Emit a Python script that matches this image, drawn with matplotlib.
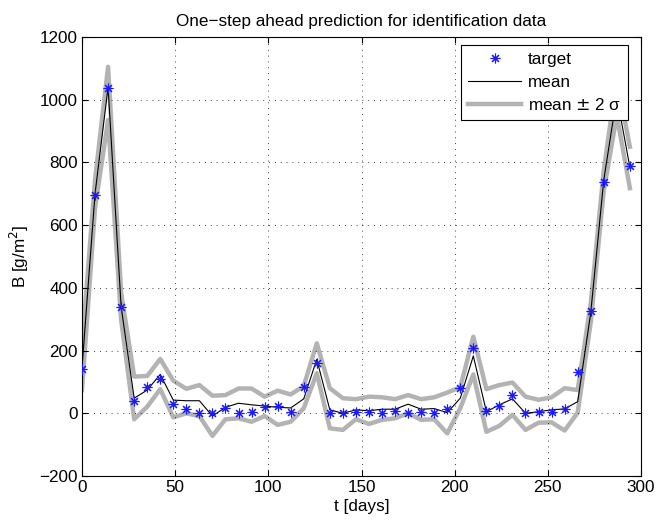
import numpy as np
import matplotlib.pyplot as plt

plt.rcParams['font.family'] = ['Liberation Sans', 'DejaVu Sans']

days = np.arange(0, 295, 7)

target = [140, 696, 1037, 340, 39, 85, 109, 29, 14, 0, 2, 18, 0, 4, 19, 23, 3, 85,
          161, 2, 0, 5, 3, 1, 7, 1, 3, 2, 13, 80, 209, 8, 23, 59, 1, 3, 5, 15, 132,
          326, 739, 1020, 790]

mean = [145, 700, 1040, 340, 48, 74, 124, 42, 40, 40, -9, 19, 32, 27, 23, 19, 17, 46,
        172, 11, 0, 11, 8, 13, 13, 29, 13, 15, 2, 48, 183, 5, 27, 46, 0, 5, 11, 14, 37,
        320, 744, 1010, 785]

upper = [212, 745, 1105, 384, 117, 119, 173, 104, 78, 90, 56, 58, 79, 79, 53, 72, 60, 87,
         223, 80, 48, 45, 53, 51, 45, 58, 45, 51, 66, 83, 244, 77, 90, 98, 53, 43, 51, 80, 74,
         350, 775, 1070, 850]

lower = [74, 655, 935, 298, -19, 21, 77, -13, 0, -9, -72, -19, -16, -27, -9, -37, -27, 16,
         128, -48, -53, -19, -34, -21, -16, 0, -21, -19, -64, 16, 124, -59, -40, -5, -53, -30,
         -29, -55, 2, 290, 710, 950, 718]

fs = 12.3

fig = plt.figure(figsize=(6.57, 5.31), dpi=100)
ax = fig.add_axes([0.1248, 0.1036, 0.8509, 0.8267])

ax.plot(days, target, linestyle='none', marker=(8, 2, 0), color='#1a1aff',
        markersize=7, markeredgewidth=0.8, label='target', zorder=3)
ax.plot(days, mean, '-', color='black', linewidth=0.8, label='mean', zorder=2)
ax.plot(days, upper, '-', color='#b3b3b3', linewidth=3.2, label='mean $\\pm$ 2 σ',
        zorder=1)
ax.plot(days, lower, '-', color='#b3b3b3', linewidth=3.2, zorder=1)

ax.set_xlim(0, 300)
ax.set_ylim(-200, 1200)
ax.set_xticks(np.arange(0, 301, 50))
ax.set_yticks(np.arange(-200, 1201, 200))
ax.set_yticklabels(['\u2212200'] + [str(v) for v in range(0, 1201, 200)])
ax.grid(True, linestyle=(0, (1, 6)), color='black', linewidth=0.6)
ax.tick_params(direction='in', top=True, right=True, labelsize=fs, length=4, pad=3)
for s in ax.spines.values():
    s.set_linewidth(0.8)

ax.set_xlabel('t [days]', fontsize=fs, labelpad=3)
ax.set_ylabel('B [g/m$^2$]', fontsize=fs, labelpad=6)
ax.set_title('One\u2212step ahead prediction for identification data', fontsize=fs, pad=8)

leg = ax.legend(loc='upper right', bbox_to_anchor=(0.9767, 0.9818), borderaxespad=0,
                fontsize=fs, fancybox=False, framealpha=1, edgecolor='black',
                handlelength=3.1, handletextpad=0.4, labelspacing=0.45, borderpad=0.4)
leg.get_frame().set_linewidth(0.8)

fig.savefig('out.png', dpi=100)
